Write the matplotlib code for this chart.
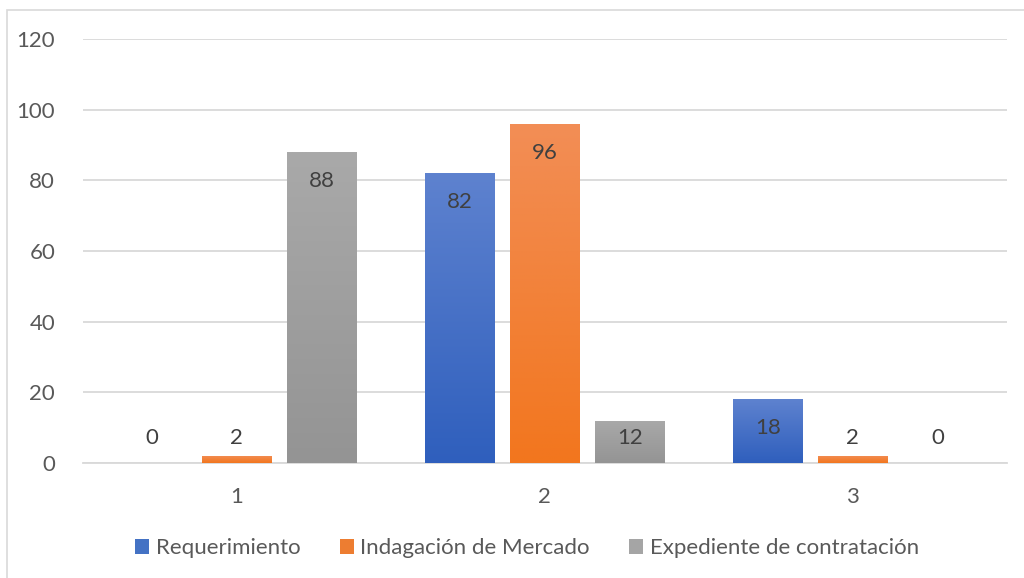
import matplotlib.pyplot as plt
import matplotlib.colors as mcolors
from matplotlib.patches import Rectangle
import numpy as np

# datos
grupos = ["1", "2", "3"]
series = ["Requerimiento", "Indagación de Mercado", "Expediente de contratación"]
requerimiento = [0, 82, 18]
indagacion = [2, 96, 2]
expediente = [88, 12, 0]
valores = [requerimiento, indagacion, expediente]

# colores degradados (arriba, abajo)
colores = [("#5e82cf", "#2f5fbd"), ("#f28e56", "#f2761e"), ("#a9a9a9", "#949494")]
solidos = ["#4472c4", "#ed7d31", "#a5a5a5"]

plt.rcParams['font.family'] = ['Lato', 'DejaVu Sans']

fig = plt.figure(figsize=(10.24, 5.78), dpi=100)
ax = fig.add_axes([0.081, 0.199, 0.902, 0.7335])

# marco del gráfico
fig.patches.append(Rectangle((7 / 1024, -0.1), 1.2, 1 - 10 / 578 + 0.1,
                             transform=fig.transFigure, fill=False,
                             edgecolor="#d9d9d9", linewidth=1.2))

x = np.arange(1, len(grupos) + 1)
ancho = 0.227
paso = 0.276

grad = np.linspace(1, 0, 256).reshape(-1, 1)
for i, (nombre, vals) in enumerate(zip(series, valores)):
    pos = x + (i - 1) * paso
    barras = ax.bar(pos, vals, ancho, color=solidos[i], label=nombre, zorder=3)
    cmap = mcolors.LinearSegmentedColormap.from_list("g%d" % i, [colores[i][1], colores[i][0]])
    for b, v in zip(barras, vals):
        if v > 0:
            im = ax.imshow(grad, cmap=cmap, aspect="auto", zorder=3.5,
                           extent=[b.get_x(), b.get_x() + b.get_width(), 0, v],
                           origin="upper", vmin=0, vmax=1)
            im.set_clip_path(b)
        # etiqueta de dato
        y_lab = max(v - 8.2, 7.1)
        ax.text(b.get_x() + b.get_width() / 2, y_lab, str(v), ha="center", va="center",
                fontsize=16, color="#404040", zorder=5)

ax.set_xlim(0.5, 3.5)
ax.set_ylim(0, 120)
ax.set_yticks(range(0, 121, 20))
ax.set_xticks(x)
ax.set_xticklabels(grupos)
ax.tick_params(length=0, labelsize=16, labelcolor="#595959")
ax.tick_params(axis="x", pad=17)
ax.tick_params(axis="y", pad=20)
ax.grid(axis="y", color="#d9d9d9", linewidth=1.3, zorder=0)
ax.set_axisbelow(True)
for s in ["top", "right", "left"]:
    ax.spines[s].set_visible(False)
ax.spines["bottom"].set_color("#d9d9d9")
ax.spines["bottom"].set_linewidth(1.3)

leg = ax.legend(loc="center", bbox_to_anchor=(527 / 1024, 1 - 548 / 578),
                bbox_transform=fig.transFigure, ncol=3, frameon=False,
                fontsize=16, handlelength=0.64, handleheight=0.64,
                handletextpad=0.3, columnspacing=1.75)
for t in leg.get_texts():
    t.set_color("#595959")

fig.savefig("out.png", dpi=100)
